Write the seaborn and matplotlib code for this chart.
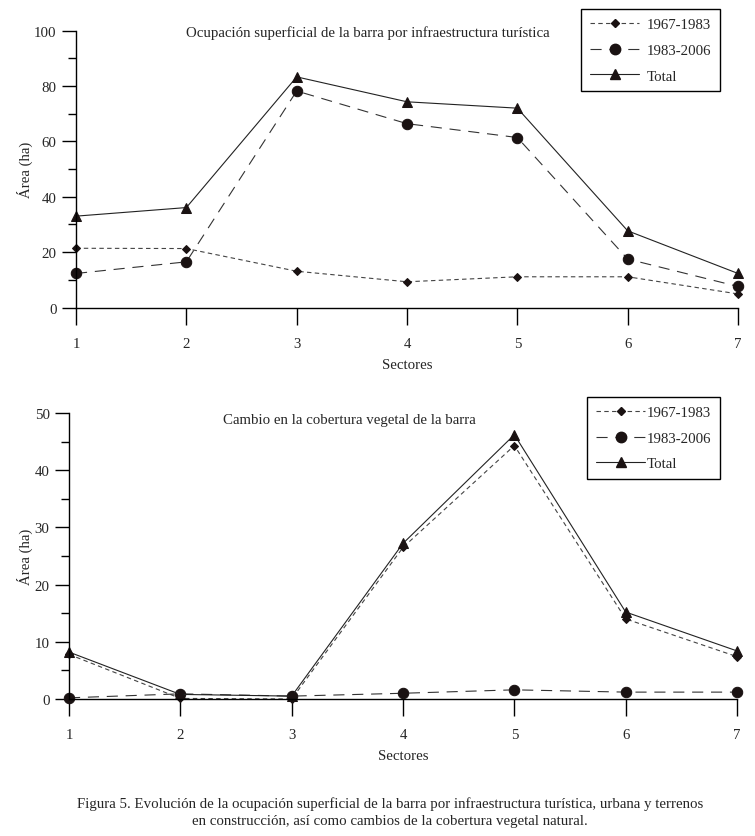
import matplotlib
matplotlib.use('Agg')
import matplotlib.pyplot as plt
from matplotlib.lines import Line2D
import seaborn as sns
import pandas as pd

sns.set_style('ticks')
plt.rcParams['font.family'] = ['Liberation Serif', 'DejaVu Serif']
plt.rcParams['font.size'] = 10.7

sectores = [1, 2, 3, 4, 5, 6, 7]
series = ['1967-1983', '1983-2006', 'Total']

# Ocupacion superficial (ha)
ocup_6783 = [21.4, 21.3, 13.1, 9.3, 11.1, 11.1, 4.9]
ocup_8306 = [12.3, 16.5, 78.2, 66.4, 61.4, 17.5, 7.6]
ocup_total = [33.0, 36.1, 83.3, 74.3, 72.0, 27.7, 12.3]

# Cambio en la cobertura vegetal (ha)
veg_6783 = [7.8, 0.1, 0.0, 26.5, 44.3, 14.0, 7.4]
veg_8306 = [0.2, 0.9, 0.5, 1.0, 1.6, 1.2, 1.2]
veg_total = [8.2, 0.8, 0.5, 27.2, 46.2, 15.2, 8.4]

ink = '#1a1212'
fs = 10.7
estilos = {
    '1967-1983': dict(marker='D', markersize=4, dashes=(4, 3), color='#444444', lw=0.8),
    '1983-2006': dict(marker='o', markersize=7.5, dashes=(10, 7), color='#333333', lw=0.8),
    'Total': dict(marker='^', markersize=6.5, dashes=(None, None), color='#222222', lw=0.8),
}


def panel(ax, valores, ymax, ymajor, titulo, tx, ty, leg_y, textpad):
    for nombre, vals in zip(series, valores):
        df = pd.DataFrame({'Sector': sectores, 'Area': vals})
        st = estilos[nombre]
        kw = dict(marker=st['marker'], markersize=st['markersize'],
                  markerfacecolor=ink, markeredgecolor=ink, color=st['color'],
                  linewidth=st['lw'], clip_on=False)
        if st['dashes'][0] is not None:
            kw['dashes'] = st['dashes']
        sns.lineplot(data=df, x='Sector', y='Area', ax=ax, **kw)
    ax.set_xlim(1, 7)
    ax.set_ylim(0, ymax)
    ax.set_xticks(sectores)
    ax.set_yticks(range(0, ymax + 1, ymajor))
    ax.set_yticks(range(ymajor // 2, ymax, ymajor), minor=True)
    ax.tick_params(axis='x', length=12, width=1, color='black', pad=9, labelsize=fs)
    ax.tick_params(axis='y', which='major', length=10, width=1, color='black', pad=4, labelsize=fs)
    ax.tick_params(axis='y', which='minor', length=6, width=1, color='black')
    for s in ['top', 'right']:
        ax.spines[s].set_visible(False)
    for s in ['left', 'bottom']:
        ax.spines[s].set_color('black')
        ax.spines[s].set_linewidth(1)
    ax.set_xlabel('Sectores', fontsize=fs, labelpad=6)
    ax.set_ylabel('Área (ha)', fontsize=fs, labelpad=1)
    ax.text(tx, ty, titulo, transform=ax.transAxes, ha='center', va='center', fontsize=fs)
    handles = []
    for nombre in series:
        st = estilos[nombre]
        h = Line2D([], [], color=st['color'], lw=st['lw'], marker=st['marker'],
                   markersize=st['markersize'], markerfacecolor=ink, markeredgecolor=ink)
        if st['dashes'][0] is not None:
            h.set_dashes(st['dashes'])
        handles.append(h)
    leg = ax.legend(handles, series, loc='upper right', bbox_to_anchor=(0.9536, leg_y),
                    bbox_transform=fig.transFigure, borderaxespad=0, frameon=True,
                    fancybox=False, framealpha=1, edgecolor='black', fontsize=fs,
                    handlelength=3.3, handletextpad=textpad, labelspacing=0.82,
                    borderpad=0.6)
    leg.get_frame().set_linewidth(1)


fig = plt.figure(figsize=(7.55, 8.37), dpi=100)
ax1 = fig.add_axes([0.1007, 0.6314, 0.8768, 0.3308])
ax2 = fig.add_axes([0.0914, 0.1637, 0.8848, 0.3417])

panel(ax1, [ocup_6783, ocup_8306, ocup_total], 100, 20,
      'Ocupación superficial de la barra por infraestructura turística',
      0.441, 0.996, 0.988, 0.5)
panel(ax2, [veg_6783, veg_8306, veg_total], 50, 10,
      'Cambio en la cobertura vegetal de la barra',
      0.42, 0.976, 0.5245, 0.1)

fig.text(0.517, 0.029,
         'Figura 5. Evolución de la ocupación superficial de la barra por infraestructura turística, urbana y terrenos\n'
         'en construcción, así como cambios de la cobertura vegetal natural.',
         ha='center', va='center', fontsize=fs, linespacing=1.45)

fig.savefig('out.png', dpi=100)
